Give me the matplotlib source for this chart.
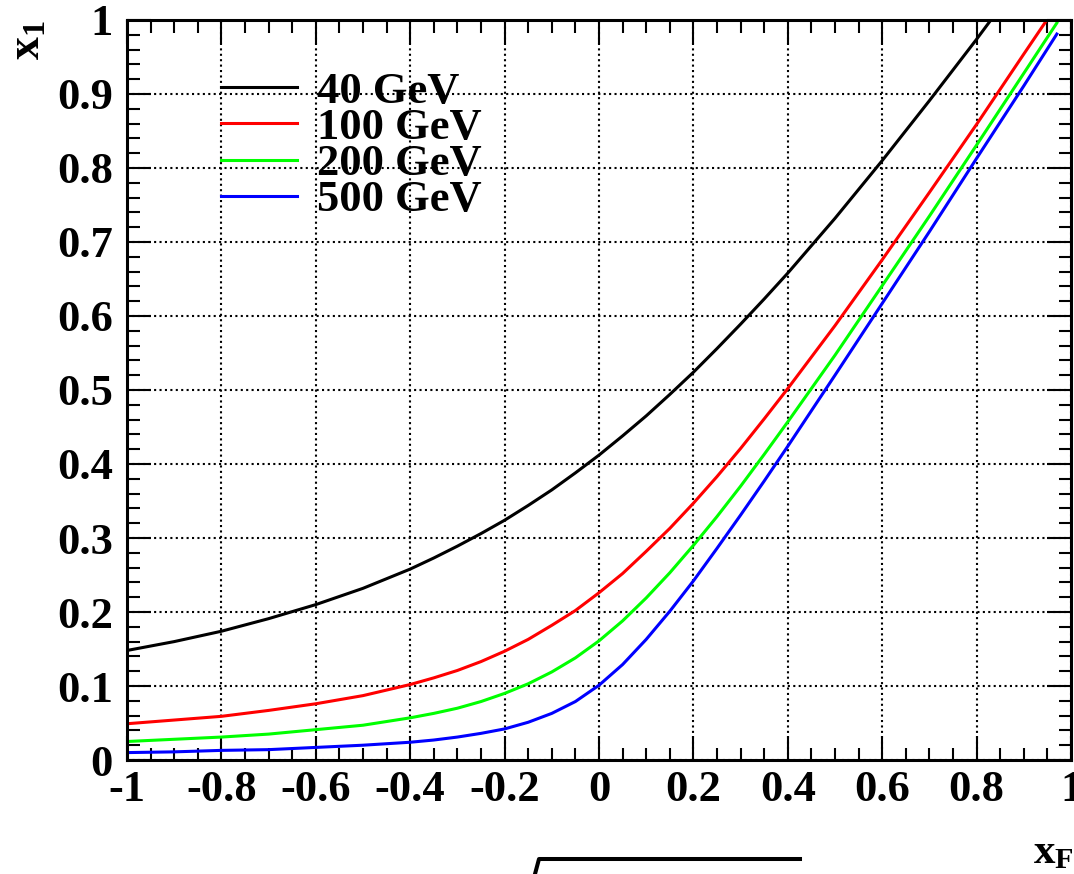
# x1 vs xF for several masses, ROOT-like style

import numpy as np
import matplotlib.pyplot as plt
from matplotlib.lines import Line2D
from matplotlib.ticker import MultipleLocator

plt.rcParams['font.family'] = ['Liberation Serif', 'DejaVu Serif']
plt.rcParams['font.weight'] = 'bold'
plt.rcParams['axes.unicode_minus'] = False
plt.rcParams['mathtext.fontset'] = 'custom'
plt.rcParams['mathtext.rm'] = 'Liberation Serif:bold'
plt.rcParams['mathtext.bf'] = 'Liberation Serif:bold'
plt.rcParams['mathtext.it'] = 'Liberation Serif:bold'

# values
xf = [-1.0, -0.9, -0.8, -0.7, -0.6, -0.5, -0.4, -0.35, -0.3, -0.25, -0.2, -0.15,
      -0.1, -0.05, 0.0, 0.05, 0.1, 0.15, 0.2, 0.25, 0.3, 0.35, 0.4, 0.5, 0.6,
      0.7, 0.8, 0.9, 0.97]
x1_40 = [0.148, 0.160, 0.174, 0.191, 0.210, 0.232, 0.258, 0.273, 0.289, 0.306,
         0.324, 0.344, 0.365, 0.388, 0.412, 0.438, 0.465, 0.494, 0.524, 0.556,
         0.589, 0.623, 0.658, 0.732, 0.810, 0.891, 0.974, 1.060, 1.121]
x1_100 = [0.049, 0.054, 0.059, 0.067, 0.076, 0.087, 0.102, 0.111, 0.121, 0.133,
          0.147, 0.163, 0.182, 0.202, 0.226, 0.252, 0.282, 0.313, 0.347, 0.383,
          0.421, 0.461, 0.502, 0.587, 0.676, 0.767, 0.859, 0.954, 1.020]
x1_200 = [0.025, 0.028, 0.031, 0.035, 0.041, 0.047, 0.057, 0.063, 0.070, 0.079,
          0.090, 0.103, 0.119, 0.138, 0.161, 0.188, 0.219, 0.253, 0.290, 0.329,
          0.370, 0.413, 0.457, 0.547, 0.641, 0.735, 0.831, 0.928, 0.996]
x1_500 = [0.010, 0.011, 0.013, 0.014, 0.017, 0.020, 0.024, 0.027, 0.031, 0.036,
          0.042, 0.051, 0.063, 0.079, 0.101, 0.129, 0.163, 0.201, 0.242, 0.286,
          0.331, 0.377, 0.424, 0.520, 0.617, 0.714, 0.813, 0.911, 0.981]
labels = ['40 GeV', '100 GeV', '200 GeV', '500 GeV']
colors = ['black', '#ff0000', '#00ff00', '#0000ff']

W, H = 1074, 874
fig = plt.figure(figsize=(W / 100, H / 100), dpi=100)
ax = fig.add_axes([127 / W, (H - 760) / H, (1071 - 127) / W, (760 - 20) / H])

for ys, lab, c in zip([x1_40, x1_100, x1_200, x1_500], labels, colors):
    ax.plot(xf, ys, color=c, lw=2.2, label=lab)

ax.set_xlim(-1, 1)
ax.set_ylim(0, 1)
ax.xaxis.set_major_locator(MultipleLocator(0.2))
ax.xaxis.set_minor_locator(MultipleLocator(0.05))
ax.yaxis.set_major_locator(MultipleLocator(0.1))
ax.yaxis.set_minor_locator(MultipleLocator(0.02))
ax.xaxis.set_major_formatter(lambda v, p: '%g' % round(v, 2))
ax.yaxis.set_major_formatter(lambda v, p: '%g' % round(v, 2))

ax.tick_params(which='both', direction='in', top=True, right=True, width=1.5,
               labelsize=32)
ax.tick_params(which='major', length=17)
ax.tick_params(which='minor', length=9)
ax.tick_params(axis='x', pad=7)
ax.tick_params(axis='y', pad=10)
for s in ax.spines.values():
    s.set_linewidth(2.2)

ax.grid(True, which='major', color='black', lw=1.5, linestyle=(0, (1, 1.6)))
ax.set_axisbelow(True)

ax.legend(loc='upper left', bbox_to_anchor=(0.1, 0.93), frameon=False,
          fontsize=32, handlelength=1.7, handletextpad=0.45, labelspacing=-0.09,
          borderpad=0, borderaxespad=0)

fig.text(29 / W, (H - 20) / H, r'$\mathbf{x}_{\mathbf{1}}$', rotation=90,
         ha='center', va='top', fontsize=33)
fig.text(1.0, (H - 834) / H, r'$\mathbf{x}_{\mathbf{F}}$', ha='right', va='top',
         fontsize=31)

# stray line under the axis, as in the original
fig.add_artist(Line2D(np.array([535, 539, 800]) / W,
                      (H - np.array([874, 859, 859])) / H,
                      transform=fig.transFigure, color='black', lw=2.9))

fig.savefig('out.png', dpi=100)
